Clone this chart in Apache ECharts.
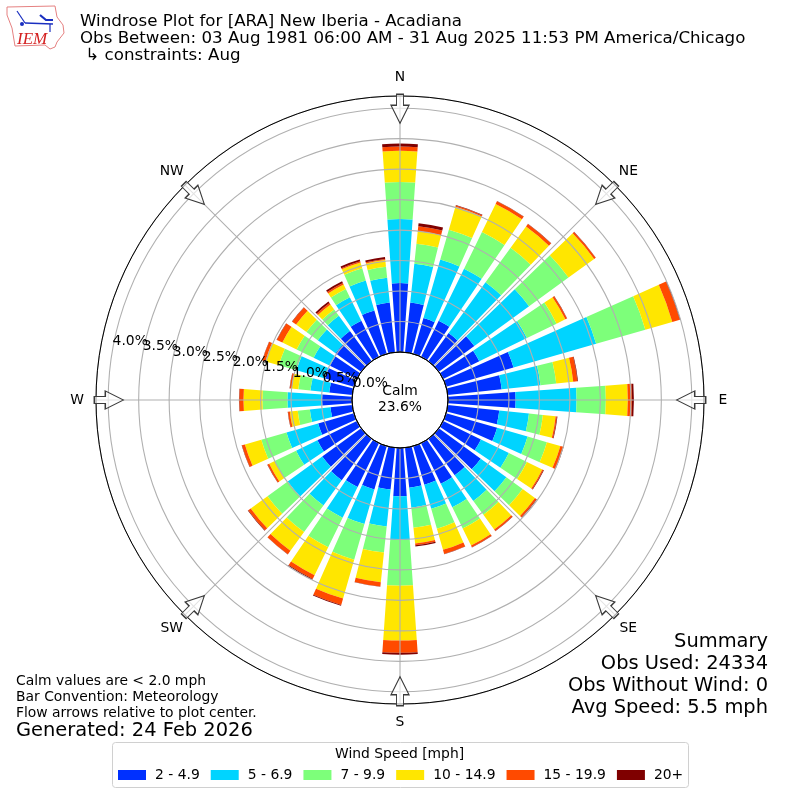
<!DOCTYPE html>
<html><head><meta charset="utf-8">
<style>html,body{margin:0;padding:0;background:#fff}#c{width:800px;height:800px}</style>
<script src="https://cdn.jsdelivr.net/npm/echarts@6/dist/echarts.min.js"></script>
</head><body><div id="c"></div>
<script>
const directions = [0,10,20,30,40,50,60,70,80,90,100,110,120,130,140,150,160,170,180,190,200,210,220,230,240,250,260,270,280,290,300,310,320,330,340,350];
const speedNames = ['2 - 4.9','5 - 6.9','7 - 9.9','10 - 14.9','15 - 19.9','20+'];
const speedColors = ['#0030ff','#00d4ff','#7dff7a','#ffe600','#ff4a00','#7f0000'];
const speed2to5 = [1.13,.82,.61,.66,.57,.72,.66,1.15,.89,1.11,.85,.87,.69,.85,.74,.74,.66,.66,.79,.69,.74,.80,.84,.79,.72,.61,.36,.49,.38,.49,.49,.52,.61,.66,.74,.82];
const speed5to7 = [1.05,.64,1.00,.95,1.03,1.11,.87,1.41,.64,1.00,.49,.52,.51,.52,.52,.43,.41,.33,.72,.61,.59,.56,.51,.70,.39,.54,.34,.57,.31,.49,.30,.36,.31,.43,.51,.41];
const speed7to10 = [.61,.33,.51,.67,.70,.80,.54,.84,.26,.48,.23,.33,.33,.33,.28,.39,.34,.33,.75,.43,.61,.54,.54,.41,.39,.43,.20,.41,.20,.30,.31,.23,.13,.15,.21,.18];
const speed10to15 = [.51,.21,.39,.51,.43,.52,.16,.46,.28,.36,.21,.23,.28,.25,.30,.31,.36,.26,.90,.49,.66,.51,.38,.34,.10,.28,.13,.31,.11,.23,.26,.21,.10,.08,.10,.11];
const speed15to20 = [.07,.08,.02,.05,.05,.03,.03,.13,.07,.07,.02,.05,.02,.03,.03,.03,.07,.03,.20,.07,.11,.07,.07,.05,.03,.05,.03,.07,.03,.05,.10,.08,.03,.03,.02,.02];
const speed20plus = [.05,.05,.01,.005,.005,.005,.005,.01,.01,.03,.01,.005,.01,.01,.005,.005,.005,.02,.03,.005,.015,.015,.005,.01,.005,.005,.005,.005,.005,.005,.005,.005,.03,.03,.03,.03];
const speedSeries = [speed2to5,speed5to7,speed7to10,speed10to15,speed15to20,speed20plus];
const radialTicks = [0,.5,1,1.5,2,2.5,3,3.5,4];
const compassAngles = [0,45,90,135,180,225,270,315];
const compassNames = ['N','NE','E','SE','S','SW','W','NW'];
const F = '"DejaVu Sans"';
function txt(text,x,y,size,align){
  const lh = Math.round(size*1.3);
  const o = {text, top:y-lh/2, padding:0, textStyle:{fontFamily:F,fontSize:size,fontWeight:'normal',color:'#000',lineHeight:lh}};
  if(align==='right') o.right=800-x; else o.left=x;
  return o;
}
const titles = [
  txt('Windrose Plot for [ARA] New Iberia - Acadiana',80,22,16.67),
  txt('Obs Between: 03 Aug 1981 06:00 AM - 31 Aug 2025 11:53 PM America/Chicago',80,39,16.67),
  txt(' ↳ constraints: Aug',80,56,16.67),
  txt('Calm values are < 2.0 mph',16,681,13.89),
  txt('Bar Convention: Meteorology',16,697,13.89),
  txt('Flow arrows relative to plot center.',16,713,13.89),
  txt('Generated: 24 Feb 2026',16,731,19.44),
  txt('Summary',768,642,19.44,'right'),
  txt('Obs Used: 24334',768,664,19.44,'right'),
  txt('Obs Without Wind: 0',768,686,19.44,'right'),
  txt('Avg Speed: 5.5 mph',768,708,19.44,'right'),
  txt('Wind Speed [mph]',335,754,13.89),
];
const barSeries = speedSeries.map((d,i)=>({
  type:'bar',name:speedNames[i],coordinateSystem:'polar',polarIndex:0,stack:'w',barWidth:'80%',
  data:d,itemStyle:{color:speedColors[i]},silent:true,z:2
}));
const arrowPath = 'path://M5.5,0 L12.5,0 L12.5,11 L18,11 L9,29 L0,11 L5.5,11 Z';
const option = {
  animation:false,
  title:titles,
  legend:{left:118,top:768,itemWidth:28,itemHeight:10,itemGap:11,icon:'rect',padding:0,
    data:speedNames,selectedMode:false,textStyle:{fontFamily:F,fontSize:13.89,color:'#000',padding:[0,0,0,4]}},
  polar:[{center:[400,400],radius:[48,304]},{center:[400,400],radius:[48,304]}],
  angleAxis:[
    {polarIndex:0,type:'category',data:directions,startAngle:95,clockwise:true,
     axisLine:{show:false},axisTick:{show:false},axisLabel:{show:false},splitLine:{show:false},splitArea:{show:false}},
    {polarIndex:1,type:'value',min:0,max:360,interval:45,startAngle:90,clockwise:true,z:5,
     axisLine:{show:true,lineStyle:{color:'#000',width:1}},axisTick:{show:false},axisLabel:{show:false},
     splitLine:{show:true,lineStyle:{color:'#b0b0b0',width:1.1}}}
  ],
  radiusAxis:[
    {polarIndex:0,type:'value',min:0,max:4.2,axisLine:{show:false},axisTick:{show:false},axisLabel:{show:false},splitLine:{show:false}},
    {polarIndex:1,type:'value',min:0,max:4.2,interval:.5,z:5,axisLine:{show:false},axisTick:{show:false},axisLabel:{show:false},
     splitLine:{show:true,lineStyle:{color:'#b0b0b0',width:1.1}}}
  ],
  series:[...barSeries,
    {type:'scatter',coordinateSystem:'polar',polarIndex:1,silent:true,z:6,clip:false,
     data:compassAngles.map(a=>({value:[3.99,a],symbolRotate:-a})),
     symbol:arrowPath,symbolSize:[18,29],
     itemStyle:{opacity:1,color:'rgba(255,255,255,0.65)',borderColor:'#3a3a3a',borderWidth:1.2}},
    {type:'scatter',coordinateSystem:'polar',polarIndex:1,silent:true,z:7,clip:false,
     data:radialTicks.map(v=>[v,280]),symbolSize:0,itemStyle:{opacity:1},
     label:{show:true,position:'right',distance:0,offset:[0,-8],color:'#000',opacity:1,fontFamily:F,fontSize:13.89,
       formatter:p=>p.value[0].toFixed(1)+'%'}},
    {type:'scatter',coordinateSystem:'polar',polarIndex:1,silent:true,z:7,clip:false,
     data:compassAngles.map((a,i)=>({value:[4.51,a],name:compassNames[i]})),symbolSize:0,itemStyle:{opacity:1},
     label:{show:true,position:'inside',color:'#000',opacity:1,fontFamily:F,fontSize:13.89,formatter:p=>p.name}}
  ],
  graphic:[
    {type:'circle',silent:true,z:10,shape:{cx:400,cy:400,r:48},style:{fill:'none',stroke:'#000',lineWidth:1}},
    {type:'text',silent:true,z:11,style:{x:400,y:399,text:'Calm\n23.6%',font:'13.89px "DejaVu Sans"',lineHeight:16,textAlign:'center',textVerticalAlign:'middle',fill:'#000'}},
    {type:'rect',silent:true,z:-1,shape:{x:112.5,y:742.5,width:576,height:45,r:3},style:{fill:'#fff',stroke:'#d0d0d0',lineWidth:1}},
    {type:'polygon',silent:true,shape:{points:[[7,7],[55,6],[57,17],[63,25],[64,33],[57,42],[55,47],[50,49],[45,45],[15,46],[12,28],[7,15]]},style:{fill:'none',stroke:'#e58080',lineWidth:1}},
    {type:'polyline',silent:true,shape:{points:[[25,23],[53,24]]},style:{stroke:'#1a2fc0',lineWidth:1.6,fill:'none'}},
    {type:'polyline',silent:true,shape:{points:[[17,11],[25,23]]},style:{stroke:'#1a2fc0',lineWidth:1.2,fill:'none'}},
    {type:'polyline',silent:true,shape:{points:[[40,15],[46,20],[53,20]]},style:{stroke:'#1a2fc0',lineWidth:2.2,fill:'none'}},
    {type:'polyline',silent:true,shape:{points:[[50,24],[50,32]]},style:{stroke:'#1a2fc0',lineWidth:1.2,fill:'none'}},
    {type:'circle',silent:true,shape:{cx:22,cy:24,r:2},style:{fill:'#1a2fc0'}},
    {type:'text',silent:true,style:{x:17,y:31,text:'IEM',font:'italic 17px "Liberation Serif"',fill:'#d42020'}}
  ]
};
const chart = echarts.init(document.getElementById('c'),null,{width:800,height:800});
chart.setOption(option);
</script></body></html>
